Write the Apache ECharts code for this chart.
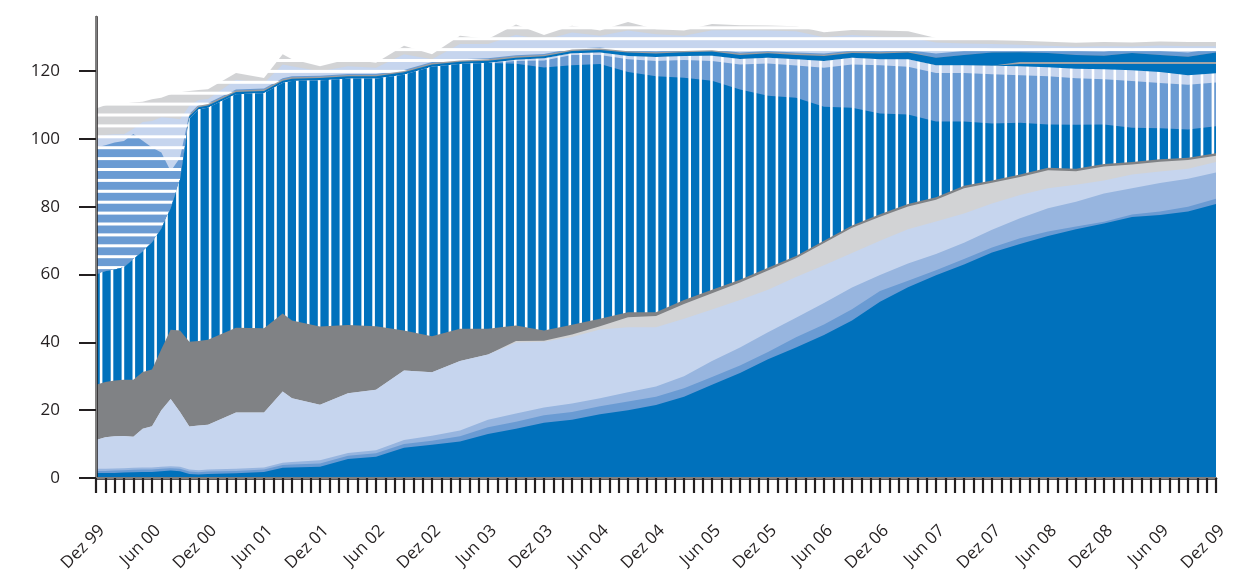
<!DOCTYPE html>
<html>
<head>
<meta charset="utf-8">
<title>Stacked area, Dez 99 - Dez 09</title>
<script src="https://cdn.jsdelivr.net/npm/echarts@6/dist/echarts.min.js"></script>
<style>
  body { margin: 0; background: #fff; }
  #chart { width: 1250px; height: 574px; }
</style>
</head>
<body>
<div id="chart"></div>
<script type="text/javascript">
// month index since Dez 99
var months = [0, 1, 2, 3, 4, 5, 6, 7, 8, 9,
  10, 11, 12, 15, 18, 20, 21, 24, 27, 30,
  33, 36, 39, 42, 45, 48, 51, 54, 57, 60,
  63, 66, 69, 72, 75, 78, 81, 84, 87, 90,
  93, 96, 99, 102, 105, 108, 111, 114, 117, 120];

var xLabels = ['Dez 99', 'Jun 00', 'Dez 00', 'Jun 01', 'Dez 01', 'Jun 02', 'Dez 02',
  'Jun 03', 'Dez 03', 'Jun 04', 'Dez 04', 'Jun 05', 'Dez 05', 'Jun 06', 'Dez 06',
  'Jun 07', 'Dez 07', 'Jun 08', 'Dez 08', 'Jun 09', 'Dez 09'];
var labelMonths = [0, 6, 12, 18, 24, 30, 36, 42, 48, 54, 60, 66, 72, 78, 84, 90, 96, 102, 108, 114, 120];
var yTicks = [0, 20, 40, 60, 80, 100, 120];

// upper edge of each band (cumulative), bottom band first
var solidDark = [1.5, 1.5, 1.5, 1.6, 1.7, 1.8, 1.8, 2.0, 2.2, 2.0,
  1.2, 1.0, 1.2, 1.4, 1.8, 3.0, 3.1, 3.3, 5.6, 6.3,
  8.9, 9.8, 10.8, 13.0, 14.5, 16.3, 17.2, 18.8, 20.0, 21.5,
  24.0, 27.5, 31.0, 35.0, 38.5, 42.2, 46.5, 52.0, 56.3, 59.8,
  63.0, 66.5, 69.0, 71.4, 73.4, 75.1, 77.0, 77.6, 78.6, 80.8];
var solidMid = [2.1, 2.1, 2.2, 2.3, 2.4, 2.5, 2.5, 2.7, 2.9, 2.7,
  1.9, 1.7, 1.9, 2.1, 2.5, 3.8, 4.0, 4.3, 6.6, 7.3,
  10.0, 11.0, 12.3, 15.0, 16.6, 18.5, 19.5, 21.2, 22.6, 24.0,
  26.5, 29.8, 33.2, 37.2, 41.5, 45.3, 49.8, 55.2, 58.2, 61.3,
  64.6, 68.0, 70.7, 72.7, 74.2, 75.6, 77.7, 78.6, 80.0, 82.4];
var solidSoft = [2.7, 2.7, 2.8, 2.9, 3.0, 3.1, 3.1, 3.3, 3.5, 3.3,
  2.5, 2.3, 2.5, 2.7, 3.1, 4.5, 4.7, 5.2, 7.4, 8.2,
  11.2, 12.5, 14.0, 17.2, 19.0, 20.8, 22.0, 23.5, 25.3, 27.0,
  30.0, 34.5, 38.5, 43.0, 47.3, 51.6, 56.2, 59.9, 63.3, 66.1,
  69.4, 73.2, 76.6, 79.6, 81.5, 83.9, 85.5, 87.0, 88.3, 90.1];
var solidPale = [11.2, 12.0, 12.3, 12.4, 12.2, 14.5, 15.3, 20.0, 23.3, 19.5,
  15.2, 15.5, 15.7, 19.3, 19.3, 25.5, 23.5, 21.6, 25.0, 26.0,
  31.7, 31.2, 34.5, 36.4, 40.0, 40.2, 41.6, 43.8, 44.5, 44.5,
  47.0, 49.7, 52.5, 55.5, 59.3, 62.8, 66.4, 70.0, 73.4, 75.7,
  78.0, 81.0, 83.5, 85.5, 86.5, 87.8, 89.5, 90.4, 91.2, 93.2];
var solidLightGrey = [11.2, 12.0, 12.3, 12.4, 12.2, 14.5, 15.3, 20.0, 23.3, 19.5,
  15.2, 15.5, 15.7, 19.3, 19.3, 25.5, 23.5, 21.6, 25.0, 26.0,
  31.7, 31.2, 34.5, 36.4, 40.4, 40.5, 42.3, 44.8, 47.4, 47.8,
  51.3, 54.5, 57.7, 61.2, 64.8, 69.3, 73.8, 77.1, 80.1, 82.1,
  85.5, 87.1, 88.8, 90.8, 90.5, 91.9, 92.5, 93.3, 93.8, 95.1];
var solidGrey = [27.5, 28.3, 28.8, 29.0, 29.0, 31.3, 32.0, 38.0, 43.7, 43.5,
  40.2, 40.4, 40.8, 44.3, 44.2, 48.5, 46.5, 44.7, 45.1, 44.8,
  43.5, 41.8, 44.0, 44.0, 45.0, 43.5, 45.2, 47.0, 48.9, 48.9,
  52.5, 55.5, 58.5, 62.0, 65.5, 70.0, 74.5, 77.8, 80.8, 82.8,
  86.2, 87.8, 89.5, 91.5, 91.2, 92.6, 93.2, 94.0, 94.5, 95.8];
var vertDark = [60.0, 61.0, 61.5, 62.2, 64.5, 66.8, 69.5, 73.5, 79.5, 88.0,
  106.0, 108.7, 109.2, 113.2, 113.5, 116.5, 117.1, 117.3, 117.8, 117.8,
  119.0, 121.3, 122.1, 122.4, 122.2, 121.1, 121.8, 122.1, 119.8, 118.5,
  118.1, 117.2, 114.6, 112.8, 112.2, 109.5, 109.2, 107.5, 107.2, 105.2,
  105.2, 104.6, 104.8, 104.3, 104.2, 104.3, 103.3, 103.2, 102.8, 103.8];
var vertMid = [60.0, 61.0, 61.5, 62.2, 64.5, 66.8, 69.5, 73.5, 79.5, 88.0,
  106.0, 108.7, 109.2, 113.2, 113.5, 116.5, 117.1, 117.3, 117.8, 117.8,
  119.0, 121.3, 122.1, 122.4, 123.0, 123.2, 124.8, 124.8, 123.5, 123.0,
  123.3, 123.0, 122.0, 122.3, 121.7, 121.0, 122.0, 121.8, 121.3, 119.5,
  119.5, 119.1, 118.8, 118.5, 117.9, 117.6, 117.1, 116.5, 116.0, 116.7];
var vertPale = [60.0, 61.0, 61.5, 62.2, 64.5, 66.8, 69.5, 73.5, 79.5, 88.0,
  106.0, 108.7, 109.2, 113.2, 113.5, 116.5, 117.1, 117.3, 117.8, 117.8,
  119.0, 121.3, 122.1, 122.4, 123.4, 123.8, 125.3, 125.5, 124.5, 124.2,
  124.5, 124.6, 123.6, 124.0, 123.5, 123.0, 124.0, 123.5, 123.5, 121.8,
  121.8, 121.6, 121.5, 121.2, 120.7, 120.6, 120.3, 119.8, 118.8, 119.4];
var bandDarkLow = [60.0, 61.0, 61.5, 62.2, 64.5, 66.8, 69.5, 73.5, 79.5, 88.0,
  106.0, 108.7, 109.2, 113.2, 113.5, 116.5, 117.1, 117.3, 117.8, 117.8,
  119.0, 121.3, 122.1, 122.4, 123.4, 123.8, 125.3, 125.5, 124.5, 124.2,
  124.5, 124.6, 123.6, 124.0, 123.5, 123.0, 124.0, 123.5, 123.5, 121.8,
  121.8, 121.6, 122.1, 122.1, 122.1, 122.1, 122.1, 122.1, 122.1, 122.1];
var bandGreyMid = [60.0, 61.0, 61.5, 62.2, 64.5, 66.8, 69.5, 73.5, 79.5, 88.0,
  106.0, 108.7, 109.2, 113.2, 113.5, 116.5, 117.1, 117.3, 117.8, 117.8,
  119.0, 121.3, 122.1, 122.4, 123.4, 123.8, 125.3, 125.5, 124.5, 124.2,
  124.5, 124.6, 123.6, 124.0, 123.5, 123.0, 124.0, 123.5, 123.5, 121.8,
  121.8, 121.6, 122.7, 122.7, 122.7, 122.7, 122.7, 122.7, 122.7, 122.7];
var bandDark = [60.0, 61.0, 61.5, 62.2, 64.5, 66.8, 69.5, 73.5, 79.5, 88.0,
  106.7, 109.4, 109.9, 113.9, 114.2, 117.2, 117.8, 118.0, 118.5, 118.5,
  119.7, 122.0, 122.8, 123.1, 124.0, 124.4, 126.0, 126.3, 125.5, 125.2,
  125.6, 125.8, 124.8, 125.3, 124.8, 124.5, 125.4, 125.2, 125.5, 124.0,
  124.8, 125.5, 125.6, 125.4, 124.8, 124.6, 125.4, 124.8, 124.3, 125.5];
var bandGrey = [60.0, 61.0, 61.5, 62.2, 64.5, 66.8, 69.5, 73.5, 79.5, 88.0,
  107.1, 109.8, 110.3, 114.3, 114.6, 117.6, 118.2, 118.4, 118.9, 118.9,
  120.1, 122.4, 123.2, 123.5, 124.4, 124.8, 126.4, 126.7, 125.9, 125.6,
  126.0, 126.2, 125.2, 125.7, 125.2, 124.9, 125.8, 125.6, 125.9, 124.0,
  124.8, 125.5, 125.6, 125.4, 124.8, 124.6, 125.4, 124.8, 124.3, 125.5];
var horizMid = [97.5, 98.2, 99.0, 99.4, 101.5, 99.5, 97.5, 96.0, 90.5, 94.5,
  107.4, 110.1, 110.6, 114.6, 114.9, 117.9, 118.5, 118.7, 119.2, 119.2,
  120.4, 122.7, 123.5, 123.8, 124.7, 125.1, 126.7, 127.0, 126.2, 125.9,
  126.3, 126.5, 125.5, 126.0, 125.5, 125.2, 126.1, 125.9, 126.2, 125.2,
  126.0, 126.7, 126.8, 126.6, 126.0, 125.8, 126.6, 126.0, 125.5, 126.7];
var horizPale = [100.9, 101.2, 101.4, 101.4, 103.0, 105.0, 105.3, 106.4, 106.2, 105.8,
  109.8, 111.5, 111.8, 117.5, 116.5, 122.0, 121.5, 120.0, 121.5, 121.0,
  125.0, 123.5, 128.0, 128.0, 130.8, 129.2, 131.4, 130.5, 132.0, 130.9,
  130.5, 132.1, 132.1, 132.0, 131.8, 130.0, 130.7, 130.2, 130.0, 128.5,
  128.2, 128.0, 127.8, 127.5, 127.2, 127.4, 127.3, 127.6, 127.4, 127.4];
var horizGrey = [109.0, 110.0, 110.3, 110.5, 110.8, 111.0, 111.7, 112.2, 113.2, 113.8,
  114.2, 114.5, 114.7, 119.5, 118.0, 125.0, 123.5, 121.5, 123.5, 122.5,
  127.5, 125.0, 130.5, 129.5, 133.8, 130.7, 133.4, 132.0, 134.5, 132.4,
  132.0, 133.9, 133.6, 133.5, 133.3, 131.5, 132.2, 132.0, 131.8, 129.8,
  129.5, 129.2, 129.0, 128.7, 128.4, 128.6, 128.5, 128.8, 128.6, 128.6];

var BLUE = '#0071bc', MID = '#6a9bd3', SOFT = '#97b5df', PALE = '#c6d5ee',
    LGREY = '#d2d3d5', GREY = '#808285', INK = '#231f20';

// striped fill, aligned to the canvas so neighbouring bands line up
function stripes(bg, fg, vertical, w) {
    var c = document.createElement('canvas');
    c.width = vertical ? 109 : 4;
    c.height = vertical ? 4 : 109;
    var ctx = c.getContext('2d');
    ctx.fillStyle = bg;
    ctx.fillRect(0, 0, c.width, c.height);
    ctx.fillStyle = fg;
    for (var k = 0; k < 10; k++) {
        var p = (vertical ? 3 : 6) + k * 10.9 - w / 2;
        if (vertical) ctx.fillRect(p, 0, w, c.height);
        else ctx.fillRect(0, p, c.width, w);
    }
    return { image: c, repeat: 'repeat' };
}

function band(name, vals, fill) {
    return {
        name: name, type: 'line', silent: true, symbol: 'none', z: 2,
        data: months.map(function (m, k) { return [m, vals[k]]; }),
        lineStyle: { width: 0, opacity: 0 },
        areaStyle: { color: fill, opacity: 1 }
    };
}

// top edge first, so every lower band paints over the one above
var series = [
    band('horizGrey', horizGrey, stripes(LGREY, '#fff', false, 3)),
    band('horizPale', horizPale, stripes(PALE, '#fff', false, 3)),
    band('horizMid', horizMid, stripes(MID, '#fff', false, 3)),
    band('bandGrey', bandGrey, '#9d9d9f'),
    band('bandDark', bandDark, BLUE),
    band('bandGreyMid', bandGreyMid, '#a3a4a6'),
    band('bandDarkLow', bandDarkLow, BLUE),
    band('vertPale', vertPale, stripes(PALE, '#fff', true, 2.6)),
    band('vertMid', vertMid, stripes(MID, '#fff', true, 2.6)),
    band('vertDark', vertDark, stripes(BLUE, '#fff', true, 2.6)),
    band('solidGrey', solidGrey, GREY),
    band('solidLightGrey', solidLightGrey, LGREY),
    band('solidPale', solidPale, PALE),
    band('solidSoft', solidSoft, SOFT),
    band('solidMid', solidMid, MID),
    band('solidDark', solidDark, BLUE)
];

var myChart = echarts.init(document.getElementById('chart'), null, { renderer: 'canvas' });
myChart.setOption({
    animation: false,
    backgroundColor: '#fff',
    grid: { left: 96, right: 34, top: 17, bottom: 96, outerBoundsMode: 'none' },
    xAxis: [{
        type: 'value', min: 0, max: 120, interval: 1, z: 10,
        axisLine: { lineStyle: { color: INK, width: 2.5 } },
        axisTick: { length: 15, lineStyle: { color: INK, width: 2.2 } },
        splitLine: { show: false },
        axisLabel: {
            customValues: labelMonths,
            formatter: function (v) { return xLabels[labelMonths.indexOf(v)]; },
            rotate: 45, margin: 44, verticalAlign: 'top',
            fontSize: 17, color: INK, fontFamily: 'Open Sans'
        }
    }, {
        type: 'value', position: 'top', min: 0, max: 120, z: 10,
        axisLine: { show: true, lineStyle: { color: '#7f7f7f', width: 2 } },
        axisTick: { show: false }, axisLabel: { show: false }, splitLine: { show: false }
    }],
    yAxis: [{
        type: 'value', min: 0, max: 136, z: 10,
        axisLine: { show: true, lineStyle: { color: INK, width: 2.5 } },
        axisTick: { show: true, length: 17, customValues: yTicks, lineStyle: { color: INK, width: 2 } },
        splitLine: { show: false },
        axisLabel: { customValues: yTicks, margin: 36, fontSize: 17, color: INK, fontFamily: 'Open Sans' }
    }, {
        type: 'value', position: 'right', min: 0, max: 136, z: 10,
        axisLine: { show: true, lineStyle: { color: '#7f7f7f', width: 2 } },
        axisTick: { show: false }, axisLabel: { show: false }, splitLine: { show: false }
    }],
    series: series
});
</script>
</body>
</html>
